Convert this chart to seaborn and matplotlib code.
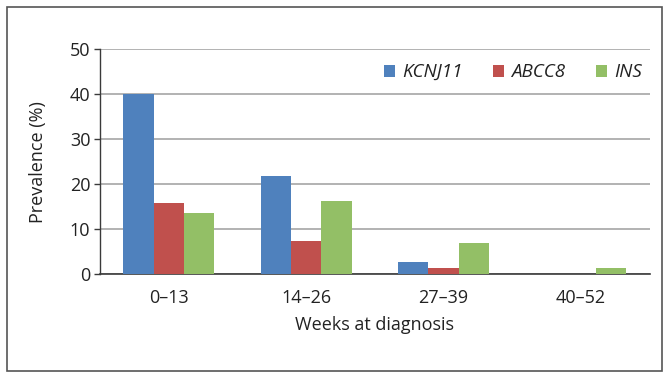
import seaborn as sns
import matplotlib.pyplot as plt
import pandas as pd
from matplotlib.patches import Rectangle

weeks = ['0–13', '14–26', '27–39', '40–52']
genes = ['KCNJ11', 'ABCC8', 'INS']
kcnj11 = [40.0, 21.8, 2.8, 0.0]
abcc8 = [15.9, 7.3, 1.3, 0.0]
ins = [13.5, 16.3, 7.0, 1.3]
colors = ['#4F81BD', '#C0504D', '#93BF66']

df = pd.DataFrame({
    'Weeks': weeks * 3,
    'Gene': [g for g in genes for _ in weeks],
    'Prevalence': kcnj11 + abcc8 + ins,
})

sns.set_style('white')
plt.rcParams['font.family'] = ['Open Sans', 'DejaVu Sans']

fig = plt.figure(figsize=(6.64, 3.74), dpi=100)
ax = fig.add_axes([0.1506, 0.267, 0.828, 0.602])

sns.barplot(data=df, x='Weeks', y='Prevalence', hue='Gene', order=weeks,
            hue_order=genes, palette=colors, width=0.66, saturation=1,
            ax=ax, zorder=3, linewidth=0)

ax.set_ylim(0, 50)
ax.set_xlim(-0.5, 3.5)
ax.set_yticks([0, 10, 20, 30, 40, 50])
ax.yaxis.grid(True, color='#a6a6a6', linewidth=1.2, zorder=0)
ax.set_axisbelow(True)

for s in ['top', 'right']:
    ax.spines[s].set_visible(False)
ax.spines['left'].set_color('#3a3a3a')
ax.spines['bottom'].set_color('#3a3a3a')
ax.spines['left'].set_linewidth(1.0)
ax.spines['bottom'].set_linewidth(1.2)

ax.tick_params(axis='y', left=True, length=4, width=1, color='#3a3a3a',
               labelsize=13, labelcolor='#222222', pad=3)
ax.tick_params(axis='x', bottom=False, labelsize=13, labelcolor='#222222', pad=7)

ax.set_xlabel('Weeks at diagnosis', fontsize=13, color='#222222', labelpad=7)
ax.set_ylabel('Prevalence (%)', fontsize=13, color='#222222', labelpad=16)

leg = ax.legend(loc='upper right', ncol=3, frameon=False, fontsize=13.5,
                handlelength=0.6, handleheight=0.6, handletextpad=0.4,
                columnspacing=1.6, bbox_to_anchor=(1.0, 0.97), borderaxespad=0)
for t in leg.get_texts():
    t.set_fontstyle('italic')
    t.set_color('#222222')

fig.patches.append(Rectangle((0.011, 0.008), 0.986, 0.974, transform=fig.transFigure,
                             fill=False, edgecolor='#555555', linewidth=1.2))

fig.savefig('out.png', dpi=100)
